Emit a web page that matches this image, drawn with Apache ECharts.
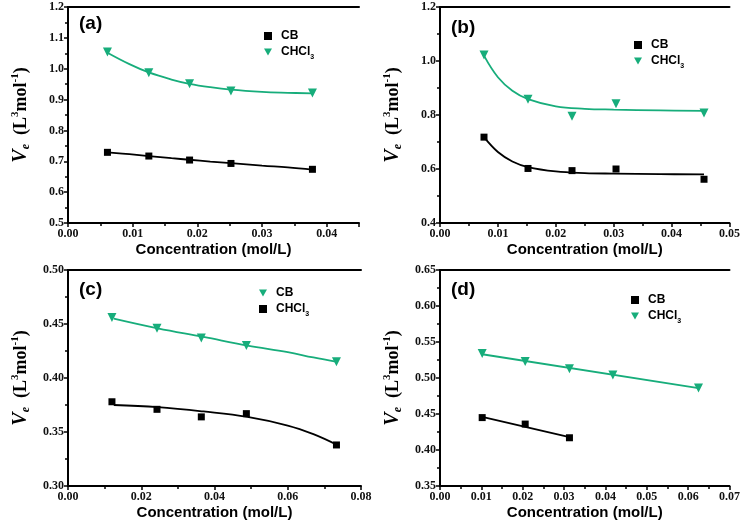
<!DOCTYPE html>
<html><head><meta charset="utf-8">
<script src="https://cdn.jsdelivr.net/npm/echarts@6/dist/echarts.min.js"></script>
<style>html,body{margin:0;padding:0;background:#fff}#c{width:743px;height:526px}</style>
</head><body><div id="c"></div>
<script>
// ---- Panel (a)
const aX = [0.0061, 0.0125, 0.0188, 0.0252, 0.0378];
const aCB = [0.729, 0.717, 0.704, 0.693, 0.674];
const aCHCl3 = [1.054, 0.987, 0.951, 0.928, 0.921];
const aFitX = [0.0061, 0.0095, 0.0125, 0.016, 0.0188, 0.022, 0.0252, 0.030, 0.034, 0.0378];
const aFitCB = [0.729, 0.723, 0.717, 0.710, 0.705, 0.699, 0.694, 0.686, 0.680, 0.673];
const aFitCHCl3 = [1.052, 1.015, 0.988, 0.965, 0.951, 0.940, 0.932, 0.925, 0.922, 0.920];
// ---- Panel (b)
const bX = [0.0076, 0.0152, 0.0228, 0.0304, 0.0456];
const bCB = [0.718, 0.602, 0.594, 0.600, 0.562];
const bCHCl3 = [1.022, 0.858, 0.795, 0.842, 0.807];
const bFitX = [0.0076, 0.0100, 0.0125, 0.0152, 0.020, 0.025, 0.030, 0.038, 0.0456];
const bFitCB = [0.718, 0.663, 0.628, 0.607, 0.591, 0.585, 0.583, 0.581, 0.580];
const bFitCHCl3 = [1.020, 0.940, 0.890, 0.859, 0.832, 0.823, 0.820, 0.817, 0.815];
// ---- Panel (c)
const cX = [0.0120, 0.0243, 0.0364, 0.0487, 0.0733];
const cCB = [0.456, 0.446, 0.437, 0.430, 0.415];
const cCHCl3 = [0.378, 0.371, 0.364, 0.367, 0.338];
const cFitX = [0.0125, 0.0245, 0.037, 0.049, 0.060, 0.067, 0.0735];
const cFitCB = [0.455, 0.446, 0.438, 0.430, 0.424, 0.419, 0.415];
const cFitCHCl3 = [0.375, 0.373, 0.369, 0.364, 0.356, 0.348, 0.338];
// ---- Panel (d)
const dXCB = [0.0102, 0.0206, 0.0313];
const dCB = [0.445, 0.436, 0.417];
const dXCHCl3 = [0.0102, 0.0206, 0.0313, 0.0418, 0.0625];
const dCHCl3 = [0.534, 0.523, 0.513, 0.504, 0.486];
const dFitXCB = [0.0102, 0.0313];
const dFitCB = [0.446, 0.418];
const dFitXCHCl3 = [0.0102, 0.0625];
const dFitCHCl3 = [0.533, 0.486];

const panels = [
  {label:'(a)', xMax:0.045, xInt:0.01, xDec:2, yMin:0.5, yMax:1.2, yInt:0.1, yDec:1,
   pts:[{n:'CB', x:aX, y:aCB, s:'sq'}, {n:'CHCl3', x:aX, y:aCHCl3, s:'tri'}],
   fits:[{x:aFitX, y:aFitCB, c:'k'}, {x:aFitX, y:aFitCHCl3, c:'g'}],
   grid:{left:68, top:7, width:291, height:216}, leg:{left:259, top:25}, lab:[79, 14]},
  {label:'(b)', xMax:0.05, xInt:0.01, xDec:2, yMin:0.4, yMax:1.2, yInt:0.2, yDec:1,
   pts:[{n:'CB', x:bX, y:bCB, s:'sq'}, {n:'CHCl3', x:bX, y:bCHCl3, s:'tri'}],
   fits:[{x:bFitX, y:bFitCB, c:'k'}, {x:bFitX, y:bFitCHCl3, c:'g'}],
   grid:{left:440, top:7, width:291, height:216}, leg:{left:629, top:34}, lab:[451, 18]},
  {label:'(c)', xMax:0.08, xInt:0.02, xDec:2, yMin:0.30, yMax:0.50, yInt:0.05, yDec:2,
   pts:[{n:'CB', x:cX, y:cCB, s:'tri'}, {n:'CHCl3', x:cX, y:cCHCl3, s:'sq'}],
   fits:[{x:cFitX, y:cFitCB, c:'g'}, {x:cFitX, y:cFitCHCl3, c:'k'}],
   grid:{left:68, top:270, width:293, height:216}, leg:{left:254, top:282}, lab:[79, 280]},
  {label:'(d)', xMax:0.07, xInt:0.01, xDec:2, yMin:0.35, yMax:0.65, yInt:0.05, yDec:2,
   pts:[{n:'CB', x:dXCB, y:dCB, s:'sq'}, {n:'CHCl3', x:dXCHCl3, y:dCHCl3, s:'tri'}],
   fits:[{x:dFitXCB, y:dFitCB, c:'k'}, {x:dFitXCHCl3, y:dFitCHCl3, c:'g'}],
   grid:{left:440, top:270, width:293, height:216}, leg:{left:626, top:289}, lab:[451, 280]}
];

const GREEN = '#17ad7b', BLACK = '#000';
const TRI_DOWN = 'path://M0,0 L10,0 L5,9 Z';
const tickFont = {fontFamily:'"Liberation Serif","Times New Roman",serif', fontWeight:'bold', fontSize:12, color:'#111'};
const grids=[], xAxes=[], yAxes=[], series=[], legends=[], graphics=[];
const zip = (xs, ys) => xs.map((x,i)=>[x, ys[i]]);

panels.forEach((p, i) => {
  grids.push(Object.assign({containLabel:false}, p.grid));
  const axisLine = {show:true, onZero:false, lineStyle:{color:'#000', width:2}};
  const ratio = p.xMax / p.xInt;
  const maxOnTick = Math.abs(ratio - Math.round(ratio)) < 1e-6;
  xAxes.push({type:'value', gridIndex:i, min:0, max:p.xMax, interval:p.xInt,
    axisLine, axisTick:{show:true, inside:false, length:4, lineStyle:{width:1.5}},
    minorTick:{show:true, splitNumber:2, length:3, lineStyle:{color:'#000', width:1.5}},
    splitLine:{show:false},
    axisLabel:Object.assign({margin:5, showMaxLabel:maxOnTick,
      formatter:v=>{ const r=v/p.xInt; return Math.abs(r-Math.round(r))<1e-6 ? v.toFixed(p.xDec) : ''; }}, tickFont),
    name:'Concentration (mol/L)', nameLocation:'middle', nameGap:19,
    nameTextStyle:{fontFamily:'"Liberation Sans",Arial,sans-serif', fontWeight:'bold', fontSize:15, color:'#000'}});
  xAxes.push({type:'value', gridIndex:i, position:'top', min:0, max:p.xMax,
    axisLine:{show:true, lineStyle:{color:'#000', width:2}}, axisTick:{show:false}, axisLabel:{show:false}, splitLine:{show:false}});
  yAxes.push({type:'value', gridIndex:i, min:p.yMin, max:p.yMax, interval:p.yInt,
    axisLine, axisTick:{show:true, inside:false, length:4, lineStyle:{width:1.5}},
    minorTick:{show:true, splitNumber:2, length:3, lineStyle:{color:'#000', width:1.5}},
    splitLine:{show:false},
    axisLabel:Object.assign({margin:4, formatter:v=>v.toFixed(p.yDec)}, tickFont),
    name:'{v|V}{e|e}{p|  (L}{sup|3}{p|mol}{sup|-1}{p|)}', nameLocation:'middle', nameRotate:90, nameGap:36,
    nameTextStyle:{lineHeight:22, rich:{
      v:{fontFamily:'"Liberation Serif",serif', fontWeight:'bold', fontStyle:'italic', fontSize:20, color:'#000'},
      e:{fontFamily:'"Liberation Serif",serif', fontWeight:'bold', fontStyle:'italic', fontSize:12, color:'#000', verticalAlign:'bottom', lineHeight:22},
      p:{fontFamily:'"Liberation Serif",serif', fontWeight:'bold', fontSize:18, color:'#000'},
      sup:{fontFamily:'"Liberation Serif",serif', fontWeight:'bold', fontSize:11, color:'#000', verticalAlign:'top', lineHeight:14}
    }}});
  yAxes.push({type:'value', gridIndex:i, position:'right', min:p.yMin, max:p.yMax,
    axisLine:{show:true, lineStyle:{color:'#000', width:2}}, axisTick:{show:false}, axisLabel:{show:false}, splitLine:{show:false}});
  const xi = i*2, yi = i*2;
  p.fits.forEach(f => {
    series.push({type:'line', xAxisIndex:xi, yAxisIndex:yi, data:zip(f.x, f.y), smooth:0.4, showSymbol:false, symbol:'none',
      lineStyle:{color: f.c==='g'?GREEN:BLACK, width:1.8}, silent:true, z:2});
  });
  const legData = [];
  p.pts.forEach(s => {
    const nm = s.n + '#' + p.label;
    legData.push({name:nm, icon: s.s==='sq' ? 'rect' : TRI_DOWN});
    series.push({type:'scatter', name:nm, xAxisIndex:xi, yAxisIndex:yi, data:zip(s.x, s.y),
      symbol: s.s==='sq'?'rect':'triangle', symbolRotate: s.s==='sq'?0:180, symbolSize: s.s==='sq'?7:9,
      itemStyle:{color: s.s==='sq'?BLACK:GREEN, opacity:1}, z:3});
  });
  legends.push({data:legData, orient:'vertical', left:p.leg.left, top:p.leg.top, itemGap:4, itemWidth:8, itemHeight:8,
    selectedMode:false,
    formatter: n => { const b = n.split('#')[0]; return b==='CHCl3' ? '{t|CHCl}{s|3}' : '{t|'+b+'}'; },
    textStyle:{padding:[0,0,0,4], rich:{t:{fontFamily:'"Liberation Sans",Arial,sans-serif', fontWeight:'bold', fontSize:12, color:'#000'},
      s:{fontFamily:'"Liberation Sans",Arial,sans-serif', fontWeight:'bold', fontSize:7, color:'#000', verticalAlign:'bottom', lineHeight:17}}}});
  graphics.push({type:'text', left:p.lab[0], top:p.lab[1], style:{text:p.label, fontFamily:'"Liberation Sans",Arial,sans-serif', fontWeight:'bold', fontSize:19, fill:'#000'}});
});

const chart = echarts.init(document.getElementById('c'), null, {renderer:'canvas'});
chart.setOption({animation:false, backgroundColor:'#fff', grid:grids, xAxis:xAxes, yAxis:yAxes, series, legend:legends, graphic:graphics});
</script></body></html>
